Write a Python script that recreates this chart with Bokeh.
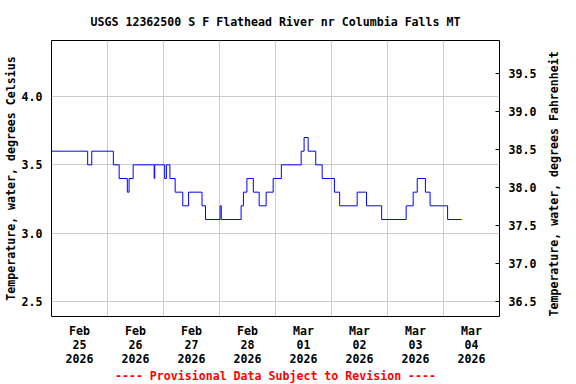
import math
import pandas as pd
from bokeh.plotting import figure
from bokeh.models import (Range1d, LinearAxis, FixedTicker, DatetimeTickFormatter,
                          NumeralTickFormatter, Title)
from bokeh.embed import file_html
from bokeh.resources import INLINE

# ---------------- data ----------------
title_text = "USGS 12362500 S F Flathead River nr Columbia Falls MT"
caption_text = "---- Provisional Data Subject to Revision ----"
y_label_c = "Temperature, water, degrees Celsius"
y_label_f = "Temperature, water, degrees Fahrenheit"

# times at which the recorded water temperature changed, and the new value (deg C)
change_times = [
    "2026-02-25 00:00", "2026-02-25 15:30", "2026-02-25 17:15",
    "2026-02-26 02:30", "2026-02-26 05:00", "2026-02-26 08:30", "2026-02-26 09:15",
    "2026-02-26 11:00", "2026-02-26 20:00", "2026-02-26 20:15",
    "2026-02-27 00:30", "2026-02-27 01:15", "2026-02-27 02:45", "2026-02-27 05:00",
    "2026-02-27 08:15", "2026-02-27 10:45", "2026-02-27 16:30", "2026-02-27 18:00",
    "2026-02-28 00:15", "2026-02-28 00:45", "2026-02-28 09:15", "2026-02-28 10:15",
    "2026-02-28 11:45", "2026-02-28 14:30", "2026-02-28 17:00", "2026-02-28 20:00",
    "2026-02-28 23:00",
    "2026-03-01 02:30", "2026-03-01 11:00", "2026-03-01 12:15", "2026-03-01 14:00",
    "2026-03-01 17:15", "2026-03-01 20:00",
    "2026-03-02 01:15", "2026-03-02 03:30", "2026-03-02 11:00", "2026-03-02 15:00",
    "2026-03-02 21:30",
    "2026-03-03 08:00", "2026-03-03 11:00", "2026-03-03 12:45", "2026-03-03 16:15",
    "2026-03-03 18:15",
    "2026-03-04 01:45",
]
temps_c = [
    3.6, 3.5, 3.6,
    3.5, 3.4, 3.3, 3.4,
    3.5, 3.4, 3.5,
    3.4, 3.5, 3.4, 3.3,
    3.2, 3.3, 3.2, 3.1,
    3.2, 3.1, 3.2, 3.3,
    3.4, 3.3, 3.2, 3.3,
    3.4,
    3.5, 3.6, 3.7, 3.6,
    3.5, 3.4,
    3.3, 3.2, 3.3, 3.2,
    3.1,
    3.2, 3.3, 3.4, 3.3,
    3.2,
    3.1,
]
last_time = "2026-03-04 07:45"

x_start = "2026-02-25 00:00"
x_end = "2026-03-05 00:00"
label_days = ["2026-02-25", "2026-02-26", "2026-02-27", "2026-02-28",
              "2026-03-01", "2026-03-02", "2026-03-03", "2026-03-04"]
grid_days = ["2026-02-26", "2026-02-27", "2026-02-28", "2026-03-01",
             "2026-03-02", "2026-03-03", "2026-03-04"]
c_ticks = [2.5, 3.0, 3.5, 4.0]
f_ticks = [36.5, 37.0, 37.5, 38.0, 38.5, 39.0, 39.5]
c_min, c_max = 2.39, 4.41

# ---------------- helpers ----------------
def ms(s):
    return int(pd.Timestamp(s).value // 10**6)

HALF_DAY = 12 * 3600 * 1000
xs = [ms(t) for t in change_times] + [ms(last_time)]
ys = list(temps_c) + [temps_c[-1]]

FONT = "DejaVu Sans Mono"
FS = "11.6px"

p = figure(width=576, height=384, x_axis_type="datetime",
           x_range=Range1d(ms(x_start), ms(x_end)),
           y_range=Range1d(c_min, c_max),
           output_backend="svg", toolbar_location=None,
           min_border_left=51, min_border_right=77,
           min_border_top=40, min_border_bottom=68)
p.background_fill_color = "white"
p.border_fill_color = "white"
p.outline_line_color = "black"
p.outline_line_width = 1

# title
p.title.text = title_text
p.title.align = "center"
p.title.text_font = FONT
p.title.text_font_size = FS
p.title.text_font_style = "bold"
p.title.text_color = "black"
p.title.standoff = 23

# x axis
xa = p.xaxis[0]
xa.ticker = FixedTicker(ticks=[ms(d) + HALF_DAY for d in label_days])
fmt = "%b\n%d\n%Y"
xa.formatter = DatetimeTickFormatter(
    microseconds=fmt, milliseconds=fmt, seconds=fmt, minsec=fmt, minutes=fmt,
    hourmin=fmt, hours=fmt, days=fmt, months=fmt, years=fmt,
    strip_leading_zeros=False)
xa.major_tick_in = 0
xa.major_tick_out = 0
xa.minor_tick_in = 0
xa.minor_tick_out = 0
xa.axis_line_color = None
xa.major_label_standoff = 7
xa.major_label_text_font = FONT
xa.major_label_text_font_size = FS
xa.major_label_text_font_style = "bold"
xa.major_label_text_color = "black"
xa.major_label_text_line_height = 1.0

# left y axis
ya = p.yaxis[0]
ya.ticker = FixedTicker(ticks=c_ticks)
ya.formatter = NumeralTickFormatter(format="0.0")
ya.major_tick_in = 0
ya.major_tick_out = 0
ya.minor_tick_in = 0
ya.minor_tick_out = 0
ya.axis_line_color = None
ya.major_label_standoff = 9
ya.major_label_text_font = FONT
ya.major_label_text_font_size = FS
ya.major_label_text_font_style = "bold"
ya.major_label_text_color = "black"
ya.axis_label = y_label_c
ya.axis_label_text_font = FONT
ya.axis_label_text_font_size = FS
ya.axis_label_text_font_style = "bold"
ya.axis_label_text_color = "black"
ya.axis_label_standoff = 1

# right y axis (Fahrenheit)
p.extra_y_ranges = {"f": Range1d(c_min * 1.8 + 32, c_max * 1.8 + 32)}
ra = LinearAxis(y_range_name="f", ticker=FixedTicker(ticks=f_ticks),
                formatter=NumeralTickFormatter(format="0.0"))
ra.major_tick_in = 4
ra.major_tick_out = 0
ra.minor_tick_in = 0
ra.minor_tick_out = 0
ra.axis_line_color = None
ra.major_label_standoff = 9
ra.major_label_text_font = FONT
ra.major_label_text_font_size = FS
ra.major_label_text_font_style = "bold"
ra.major_label_text_color = "black"
ra.axis_label = y_label_f
ra.axis_label_text_font = FONT
ra.axis_label_text_font_size = FS
ra.axis_label_text_font_style = "bold"
ra.axis_label_text_color = "black"
ra.axis_label_standoff = 15
ra.axis_label_orientation = math.pi / 2
ra.axis_label_align = "start"
p.add_layout(ra, "right")

# grids
p.xgrid.ticker = FixedTicker(ticks=[ms(d) for d in grid_days])
p.ygrid.ticker = FixedTicker(ticks=c_ticks)
for g in (p.xgrid[0], p.ygrid[0]):
    g.grid_line_color = "#cccccc"
    g.grid_line_width = 1

# data line
p.step(xs, ys, mode="after", line_color="blue", line_width=1)

# caption below the date labels
p.add_layout(Title(text=caption_text, align="center", text_font=FONT,
                   text_font_size=FS, text_font_style="bold", text_color="red",
                   standoff=-4), "below")

open("out.html", "w").write(file_html(p, INLINE))
